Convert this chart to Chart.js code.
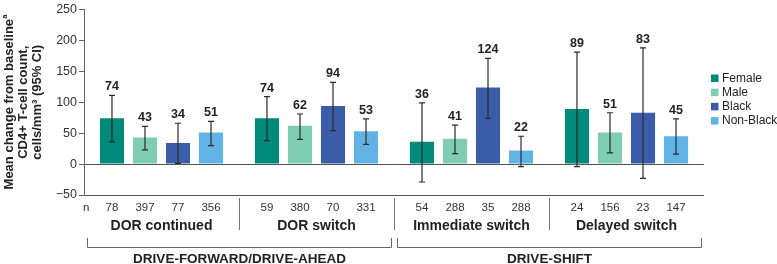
<!DOCTYPE html>
<html>
<head>
<meta charset="utf-8">
<script src="https://cdn.jsdelivr.net/npm/chart.js@4"></script>
<style>
  html, body { margin: 0; padding: 0; background: #fff; }
  #wrap { width: 777px; height: 264px; position: relative; }
</style>
</head>
<body>
<div id="wrap"><canvas id="grafica" width="777" height="264"></canvas></div>
<script>
// categorias y series
const categorias = ['DOR continued', 'DOR switch', 'Immediate switch', 'Delayed switch'];
const series = ['Female', 'Male', 'Black', 'Non-Black'];
const colores = ['#008a7b', '#7fcdb3', '#3a5ca9', '#62b3e5'];

// medias
const female = [74, 74, 36, 89];
const male = [43, 62, 41, 51];
const black = [34, 94, 124, 83];
const nonBlack = [51, 53, 22, 45];

// IC 95%
const femaleLow = [36, 38, -29, -4];
const femaleHigh = [111, 109, 99, 181];
const maleLow = [23, 40, 17, 18];
const maleHigh = [61, 81, 63, 83];
const blackLow = [1, 54, 74, -23];
const blackHigh = [66, 132, 171, 188];
const nonBlackLow = [30, 32, -4, 16];
const nonBlackHigh = [69, 73, 45, 73];

// n por grupo
const femaleN = [78, 59, 54, 24];
const maleN = [397, 380, 288, 156];
const blackN = [77, 70, 35, 23];
const nonBlackN = [356, 331, 288, 147];

// eje y
const yMin = -50, yMax = 250, yStep = 50;

// estudios (brackets)
const estudios = ['DRIVE-FORWARD/DRIVE-AHEAD', 'DRIVE-SHIFT'];
const estudioCategorias = [[0, 1], [2, 3]];

const yTitulo = ['Mean change from baseline', 'CD4+ T-cell count,', 'cells/mm\u00B3 (95% CI)'];

const valores = [female, male, black, nonBlack];
const bajos = [femaleLow, maleLow, blackLow, nonBlackLow];
const altos = [femaleHigh, maleHigh, blackHigh, nonBlackHigh];
const enes = [femaleN, maleN, blackN, nonBlackN];

const FONT = "'Liberation Sans', Arial, sans-serif";
Chart.defaults.font.family = FONT;

const extras = {
    id: 'extras',
    afterDatasetsDraw(chart) {
        const ctx = chart.ctx;
        const y = chart.scales.y;
        const x = chart.scales.x;
        const area = chart.chartArea;
        ctx.save();

        // barras de error + etiquetas + n
        chart.data.datasets.forEach((ds, i) => {
            const meta = chart.getDatasetMeta(i);
            meta.data.forEach((bar, j) => {
                const yHi = y.getPixelForValue(altos[i][j]);
                const yLo = y.getPixelForValue(bajos[i][j]);
                ctx.strokeStyle = '#2b2b2b';
                ctx.lineWidth = 1.2;
                ctx.beginPath();
                ctx.moveTo(bar.x, yHi); ctx.lineTo(bar.x, yLo);
                ctx.moveTo(bar.x - 3, yHi); ctx.lineTo(bar.x + 3, yHi);
                ctx.moveTo(bar.x - 3, yLo); ctx.lineTo(bar.x + 3, yLo);
                ctx.stroke();

                ctx.fillStyle = '#222';
                ctx.font = 'bold 12.5px ' + FONT;
                ctx.textAlign = 'center';
                ctx.textBaseline = 'alphabetic';
                ctx.fillText(String(ds.data[j]), bar.x, yHi - 5);

                ctx.font = '11.5px ' + FONT;
                ctx.fillStyle = '#333';
                ctx.fillText(String(enes[i][j]), bar.x, 211);
            });
        });

        ctx.textAlign = 'left';
        ctx.font = '11.5px ' + FONT;
        ctx.fillText('n', area.left - 1, 211);

        // nombres de categoria y separadores
        ctx.font = 'bold 14px ' + FONT;
        ctx.textAlign = 'center';
        ctx.fillStyle = '#222';
        categorias.forEach((c, k) => {
            ctx.fillText(c, x.getPixelForValue(k), 230);
        });
        ctx.strokeStyle = '#777';
        ctx.lineWidth = 1;
        for (let k = 0; k < categorias.length - 1; k++) {
            const bx = Math.round((x.getPixelForValue(k) + x.getPixelForValue(k + 1)) / 2) + 0.5;
            ctx.beginPath();
            ctx.moveTo(bx, 198); ctx.lineTo(bx, 230);
            ctx.stroke();
        }

        // brackets de estudio
        const half = (x.getPixelForValue(1) - x.getPixelForValue(0)) / 2;
        ctx.strokeStyle = '#666';
        estudios.forEach((e, k) => {
            const [a, b] = estudioCategorias[k];
            const x0 = Math.round(x.getPixelForValue(a) - half + 3) + 0.5;
            const x1 = Math.round(x.getPixelForValue(b) + half - 3) + 0.5;
            ctx.beginPath();
            ctx.moveTo(x0, 238); ctx.lineTo(x0, 247.5); ctx.lineTo(x1, 247.5); ctx.lineTo(x1, 238);
            ctx.stroke();
            ctx.font = 'bold 13.5px ' + FONT;
            ctx.fillStyle = '#222';
            ctx.fillText(e, (x0 + x1) / 2, 263);
        });

        // titulo eje y
        ctx.fillStyle = '#222';
        ctx.font = 'bold 13px ' + FONT;
        const cy = (area.top + area.bottom) / 2;
        const xs = [9, 23, 37];
        yTitulo.forEach((linea, k) => {
            ctx.save();
            ctx.translate(xs[k], cy);
            ctx.rotate(-Math.PI / 2);
            ctx.textBaseline = 'middle';
            if (k === 0) {
                ctx.font = 'bold 13px ' + FONT;
                const w = ctx.measureText(linea).width;
                ctx.font = 'bold 7px ' + FONT;
                const ws = ctx.measureText('a').width;
                const x0 = -(w + ws) / 2;
                ctx.textAlign = 'left';
                ctx.font = 'bold 13px ' + FONT;
                ctx.fillText(linea, x0, 0);
                ctx.font = 'bold 7px ' + FONT;
                ctx.fillText('a', x0 + w + 0.5, -4);
            } else {
                ctx.textAlign = 'center';
                ctx.fillText(linea, 0, 0);
            }
            ctx.restore();
        });

        // leyenda
        ctx.font = '12px ' + FONT;
        ctx.textAlign = 'left';
        ctx.textBaseline = 'middle';
        series.forEach((s, k) => {
            const ly = 78.5 + k * 14.2;
            ctx.fillStyle = colores[k];
            ctx.fillRect(711, ly - 4, 7.5, 7.5);
            ctx.fillStyle = '#222';
            ctx.fillText(s, 722, ly);
        });

        ctx.restore();
    }
};

new Chart(document.getElementById('grafica'), {
    type: 'bar',
    data: {
        labels: categorias,
        datasets: series.map((s, i) => ({
            label: s,
            data: valores[i],
            backgroundColor: colores[i],
            borderWidth: 0,
            categoryPercentage: 0.852,
            barPercentage: 0.73
        }))
    },
    options: {
        responsive: false,
        animation: false,
        layout: { padding: { left: 0, right: 73, top: 5, bottom: 69 } },
        plugins: {
            legend: { display: false },
            tooltip: { enabled: false }
        },
        scales: {
            x: { display: false },
            y: {
                min: yMin,
                max: yMax,
                afterFit: s => { s.width = 84; },
                ticks: {
                    stepSize: yStep,
                    color: '#333',
                    font: { size: 12.5 },
                    padding: 2,
                    callback: v => v < 0 ? '\u2212' + Math.abs(v) : v
                },
                grid: {
                    color: c => (c.tick && (c.tick.value === 0 || c.tick.value === yMin)) ? '#555' : 'rgba(0,0,0,0)',
                    tickColor: '#666',
                    tickLength: 5,
                    lineWidth: 1
                },
                border: { color: '#666', width: 1 }
            }
        }
    },
    plugins: [extras]
});
</script>
</body>
</html>
